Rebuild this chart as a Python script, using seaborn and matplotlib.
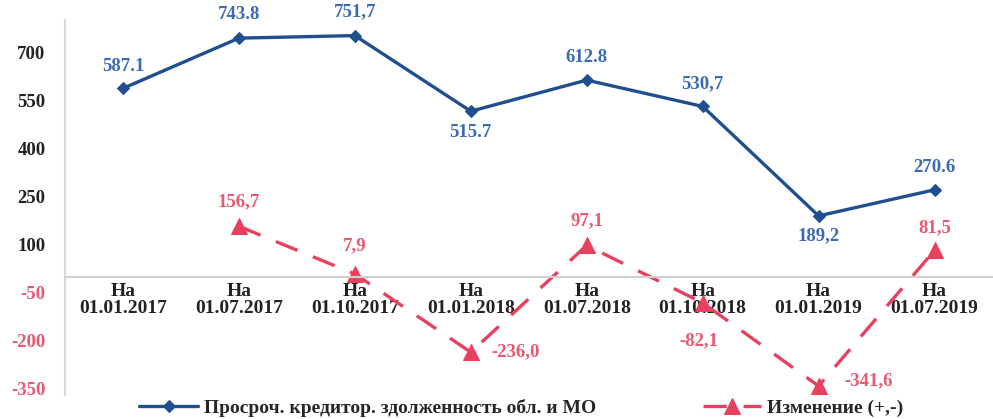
import matplotlib
matplotlib.use("Agg")
import matplotlib.pyplot as plt
import seaborn as sns
import pandas as pd
import numpy as np

categories = ["На\n01.01.2017", "На\n01.07.2017", "На\n01.10.2017", "На\n01.01.2018",
              "На\n01.07.2018", "На\n01.10.2018", "На\n01.01.2019", "На\n01.07.2019"]
debt = [587.1, 743.8, 751.7, 515.7, 612.8, 530.7, 189.2, 270.6]
change = [np.nan, 156.7, 7.9, -236.0, 97.1, -82.1, -341.6, 81.5]
debt_labels = ["587.1", "743.8", "751,7", "515.7", "612.8", "530,7", "189,2", "270.6"]
change_labels = ["", "156,7", "7,9", "-236,0", "97,1", "-82,1", "-341,6", "81,5"]
yticks = [700, 550, 400, 250, 100, -50, -200, -350]
series_names = ["Просроч. кредитор. здолженность обл. и МО", "Изменение (+,-)"]

sns.set_theme(style="white")
plt.rcParams["font.family"] = ["Liberation Serif", "DejaVu Serif"]

BLUE = "#1f4f8f"
BLUE_TXT = "#3b6bb3"
RED = "#e8405f"
RED_TXT = "#e85a73"

df = pd.DataFrame({"x": list(range(len(categories))) * 2,
                   "value": debt + change,
                   "series": [series_names[0]] * len(debt) + [series_names[1]] * len(change)})

fig = plt.figure(figsize=(9.93, 4.19), dpi=100)
ax = fig.add_axes([0.0655, 0.057, 0.934, 0.895])

d1 = df[df.series == series_names[0]]
d2 = df[df.series == series_names[1]].dropna()
sns.lineplot(data=d1, x="x", y="value", ax=ax, color=BLUE, lw=2.4, marker="D",
             markersize=6, markeredgecolor=BLUE, label=series_names[0])
sns.lineplot(data=d2, x="x", y="value", ax=ax, color=RED, lw=2.4, marker="^",
             markersize=11, markeredgecolor=RED, label=series_names[1])
ax.lines[1].set_dashes([7, 5])

for s in ["top", "right"]:
    ax.spines[s].set_visible(False)
ax.spines["bottom"].set_position(("data", 0))
ax.spines["bottom"].set_color("#d0d0d0")
ax.spines["bottom"].set_linewidth(1.5)
ax.spines["left"].set_color("#d9d9d9")
ax.spines["left"].set_linewidth(1.5)

ax.set_xlim(-0.5, 7.5)
ax.set_ylim(-370, 800)
ax.set_yticks(yticks)
ax.set_yticklabels([str(v) for v in yticks], fontsize=13.5, fontweight="bold")
ax.set_xticks(range(len(categories)))
ax.set_xticklabels(categories, fontsize=14, fontweight="bold", color="#222222", linespacing=1.0)
ax.tick_params(axis="both", length=0)
ax.tick_params(axis="x", pad=5)
ax.tick_params(axis="y", pad=14)
ax.set_xlabel("")
ax.set_ylabel("")
for lab, v in zip(ax.get_yticklabels(), yticks):
    lab.set_color(RED_TXT if v < 0 else "#222222")

# labels for debt
debt_off = [(0, 16), (0, 17), (0, 17), (0, -15), (0, 16), (0, 16), (0, -14), (0, 16)]
for i, (v, t) in enumerate(zip(debt, debt_labels)):
    ax.annotate(t, (i, v), xytext=debt_off[i], textcoords="offset points",
                ha="center", va="center", color=BLUE_TXT, fontsize=13.5, fontweight="bold")
change_off = [(0, 0), (0, 18), (0, 20), (32, 0), (0, 18), (-3, -27), (36, 4), (0, 16)]
for i, (v, t) in enumerate(zip(change, change_labels)):
    if not t:
        continue
    ax.annotate(t, (i, v), xytext=change_off[i], textcoords="offset points",
                ha="center", va="center", color=RED_TXT, fontsize=13.5, fontweight="bold")

ax.get_legend().remove()
h, l = ax.get_legend_handles_labels()
fig.legend(h, l, loc="center", bbox_to_anchor=(0.525, 0.027), ncol=2, frameon=False,
           columnspacing=5.5, handlelength=3.0, handletextpad=0.3,
           prop={"family": ["Liberation Serif"], "weight": "bold", "size": 14})

fig.savefig("out.png", dpi=100)
